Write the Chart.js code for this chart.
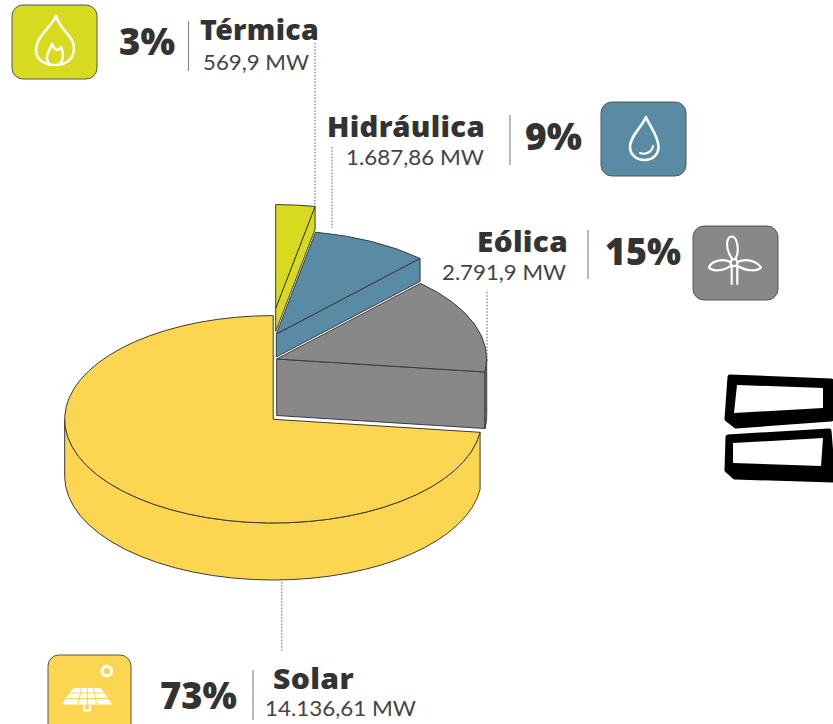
<!DOCTYPE html>
<html lang="es">
<head>
<meta charset="utf-8">
<title>Matriz de generación</title>
<script src="https://cdn.jsdelivr.net/npm/chart.js@4"></script>
<style>
html,body{margin:0;padding:0;background:#fff;width:833px;height:724px;overflow:hidden}
#wrap{position:relative;width:833px;height:724px;overflow:hidden}
#pie,#over{position:absolute;left:0;top:0}
#pie{width:833px;height:724px}
text{fill:#333}
.name{font-family:"Noto Sans",sans-serif;font-weight:900;font-size:28px;letter-spacing:.3px}
.mw{font-family:"Lato","Noto Sans",sans-serif;font-weight:400;font-size:22px;fill:#444}
.pct{font-family:"Noto Sans",sans-serif;font-weight:900;font-size:37px}
</style>
</head>
<body>
<div id="wrap">
<svg id="over" width="833" height="724" xmlns="http://www.w3.org/2000/svg">
  <g id="leaders" fill="none" stroke="#8f8f8f" stroke-width="1.4" stroke-dasharray="1.6 1.6"></g>
  <g id="seps" stroke="#8a8a8a" stroke-width="1.2"></g>
  <g id="cards" stroke="#555" stroke-width="1"></g>
  <g id="icons" fill="none" stroke="#fff" stroke-width="2.600" stroke-linecap="round" stroke-linejoin="round">
    <path d="M56 16C51 28 36 36 36 50C36 60 45 65 55 65C65 65 74 60 74 48C74 36 60 30 56 16Z"/>
    <path d="M49 64C44 56 49 52 52 44C55 50 58 52 61 47C64 54 63 60 60 64"/>
    <path d="M646 117C642 127 630 136 630 147C630 155 637 160 644.500 160C652 160 658.500 155 658.500 147C658.500 136 650 127 646 117Z"/>
    <path d="M640 153C646 155 652 152 653 146" stroke-width="2"/>
    <circle cx="734" cy="262.700" r="3.500" stroke-width="2.200"/>
    <path d="M732.500 259C725 250 726 237 731.500 236.500C737 236 740 250 735.500 259" stroke-width="2.200"/>
    <path d="M730.500 262C722 258 711 261 709 267.500C713 272 724 271 731 265.500" stroke-width="2.200"/>
    <path d="M737.500 262C746 258 757 261 761 267.500C757 272 745 271 737 265.500" stroke-width="2.200"/>
    <path d="M731.700 267V284M737.300 267V284" stroke-width="2.200"/>
    <circle cx="106.700" cy="671" r="4.800" stroke-width="3"/>
    <path d="M74 688.500H100.500L111.500 704H62.500Z" fill="#fff" stroke-width="1"/>
    <path d="M72 693H103M67.500 698.500H107M81.500 688.500L78 704M87.300 688.500V704M93.500 688.500L96.500 704" stroke="#fdd651" stroke-width="1.100"/>
    <path d="M84 705V710.500H90V705" stroke-width="2"/>
  </g>
  <g id="labels"></g>
</svg>
<canvas id="pie" width="833" height="724"></canvas>
<svg id="marks" width="833" height="724" style="position:absolute;left:0;top:0" xmlns="http://www.w3.org/2000/svg">
  <g fill="#000" stroke="#000" stroke-width="5" stroke-linejoin="round">
    <path d="M730 377L831 381V419L736 426L727 419Z"/>
    <path d="M728 437L829 431L833 480L735 477L727 470Z"/>
  </g>
  <g fill="#fff">
    <path d="M737 385L823 388V408L734 413Z"/>
    <path d="M733 443L823 438L821 466L733 463Z"/>
  </g>
</svg>
</div>
<script>
const categories = ["Térmica", "Hidráulica", "Eólica", "Solar"];
const shares = [3, 9, 15, 73];
const shareLabels = ["3%", "9%", "15%", "73%"];
const powerLabels = ["569,9 MW", "1.687,86 MW", "2.791,9 MW", "14.136,61 MW"];

const sliceColors = ["#d7da1f", "#5a8ba5", "#888888", "#fdd651"];
const frames = [
  {cx: 275.7, cy: 308.3, depth: 23, sx: 1},
  {cx: 276.3, cy: 334.0, depth: 23, sx: 1},
  {cx: 276.7, cy: 359.0, depth: 56.5, sx: 1},
  {cx: 273.2, cy: 419.3, depth: 57, sx: 0.993}
];
const squash = 103.7 / 210;
const edge = "#3a3a3a";

const layoutText = [
  {pct:[119,55,56], name:[200,40,119], mw:[203,70,106], sep:[188.5,21,71], card:[12,5,85,74]},
  {pct:[525,150,57], name:[327,137,158], mw:[346,165,138], sep:[510,115,165], card:[601,102,85,74]},
  {pct:[605,265,76], name:[477,252,91], mw:[442,280,124], sep:[588,230,279], card:[693,226,85,74]},
  {pct:[160,709,77], name:[273,689,81], mw:[265,716,151], sep:[253,670,720], card:[48,655,83,80]}
];
const leaderLines = [[315,43,205],[332,147,228],[487,292,362],[281.700,582,652]];

const NS = "http://www.w3.org/2000/svg";
function add(parent, tag, attrs, txt){
  const e = document.createElementNS(NS, tag);
  for (const k in attrs) e.setAttribute(k, attrs[k]);
  if (txt) e.textContent = txt;
  document.getElementById(parent).appendChild(e);
}
function label(cls, spec, txt){
  add("labels", "text", {class: cls, x: spec[0], y: spec[1], textLength: spec[2], lengthAdjust: "spacingAndGlyphs"}, txt);
}
categories.forEach((name, i) => {
  const p = layoutText[i];
  label("pct", p.pct, shareLabels[i]);
  label("name", p.name, name);
  label("mw", p.mw, powerLabels[i]);
  add("seps", "line", {x1: p.sep[0], x2: p.sep[0], y1: p.sep[1], y2: p.sep[2]});
  add("cards", "rect", {x: p.card[0], y: p.card[1], width: p.card[2], height: p.card[3], rx: 11, fill: sliceColors[i]});
});
leaderLines.forEach(l => add("leaders", "line", {x1: l[0], x2: l[0], y1: l[1], y2: l[2]}));

const pie3d = {
  id: "pie3d",
  beforeDatasetDraw(chart) {
    const ctx = chart.ctx;
    const arcs = chart.getDatasetMeta(0).data;
    for (let i = arcs.length - 1; i >= 0; i--) {
      const el = arcs[i], f = frames[i];
      const a0 = el.startAngle, a1 = el.endAngle;
      const rx = el.outerRadius * f.sx, ry = el.outerRadius * squash;
      const col = sliceColors[i];
      ctx.save();
      ctx.lineWidth = 1;
      ctx.strokeStyle = edge;
      ctx.lineJoin = "round";
      const paint = () => { ctx.fillStyle = col; ctx.fill(); ctx.stroke(); };

      // radial cut facing the viewer
      const ex = f.cx + rx * Math.cos(a1), ey = f.cy + ry * Math.sin(a1);
      if (Math.sin(a1) > -1 && Math.cos(a1) > 0) {
        ctx.beginPath();
        ctx.moveTo(f.cx, f.cy);
        ctx.lineTo(ex, ey);
        ctx.lineTo(ex, ey + f.depth);
        ctx.lineTo(f.cx, f.cy + f.depth);
        ctx.closePath();
        paint();
      }
      // outer wall: visible part of the rim, front half only
      const wa = Math.max(a0, 0), wb = Math.min(a1, Math.PI);
      if (wb > wa) {
        ctx.beginPath();
        ctx.ellipse(f.cx, f.cy, rx, ry, 0, wa, wb);
        ctx.ellipse(f.cx, f.cy + f.depth, rx, ry, 0, wb, wa, true);
        ctx.closePath();
        paint();
      }
      // top face: the library's own arc, flattened
      ctx.save();
      ctx.translate(f.cx, f.cy);
      ctx.scale(f.sx, squash);
      ctx.translate(-el.x, -el.y);
      el.draw(ctx);
      ctx.restore();
      ctx.beginPath();
      ctx.moveTo(f.cx, f.cy);
      ctx.ellipse(f.cx, f.cy, rx, ry, 0, a0, a1);
      ctx.closePath();
      ctx.stroke();
      ctx.restore();
    }
    return false;
  }
};

new Chart(document.getElementById("pie"), {
  type: "pie",
  data: {
    labels: categories,
    datasets: [{data: shares, backgroundColor: sliceColors, borderWidth: 0, hoverOffset: 0}]
  },
  options: {
    responsive: false,
    animation: false,
    events: [],
    radius: 210,
    rotation: 0,
    plugins: {legend: {display: false}, tooltip: {enabled: false}, title: {display: false}}
  },
  plugins: [pie3d]
});
</script>
</body>
</html>
